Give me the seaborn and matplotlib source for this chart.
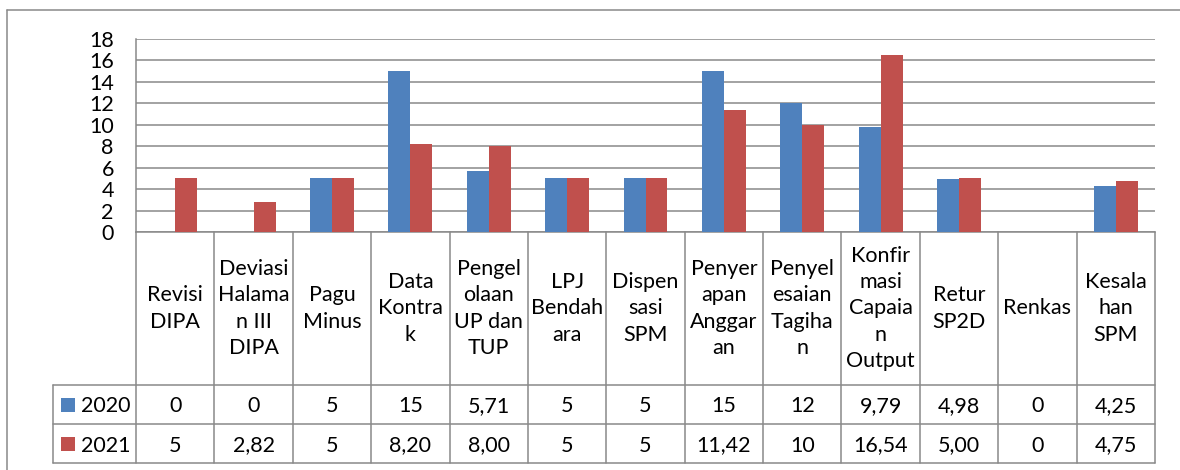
import numpy as np
import pandas as pd
import matplotlib
matplotlib.use("Agg")
import matplotlib.pyplot as plt
from matplotlib.lines import Line2D
from matplotlib.patches import Rectangle
import matplotlib.transforms as mtransforms
import seaborn as sns

categories = ["Revisi\nDIPA", "Deviasi\nHalama\nn III\nDIPA", "Pagu\nMinus", "Data\nKontra\nk",
              "Pengel\nolaan\nUP dan\nTUP", "LPJ\nBendah\nara", "Dispen\nsasi\nSPM",
              "Penyer\napan\nAnggar\nan", "Penyel\nesaian\nTagiha\nn",
              "Konfir\nmasi\nCapaia\nn\nOutput", "Retur\nSP2D", "Renkas", "Kesala\nhan\nSPM"]
series_names = ["2020", "2021"]
values_2020 = [0, 0, 5, 15, 5.71, 5, 5, 15, 12, 9.79, 4.98, 0, 4.25]
values_2021 = [5, 2.82, 5, 8.20, 8.00, 5, 5, 11.42, 10, 16.54, 5.00, 0, 4.75]
labels_2020 = ["0", "0", "5", "15", "5,71", "5", "5", "15", "12", "9,79", "4,98", "0", "4,25"]
labels_2021 = ["5", "2,82", "5", "8,20", "8,00", "5", "5", "11,42", "10", "16,54", "5,00", "0", "4,75"]
y_ticks = [0, 2, 4, 6, 8, 10, 12, 14, 16, 18]

colors = ["#4F81BD", "#C0504D"]
grid_c = "#898989"
FONT = "Lato"
FS = 15.5

sns.set_theme(style="white")
plt.rcParams["font.family"] = [FONT, "DejaVu Sans"]

W, H = 1180, 470
fig = plt.figure(figsize=(W / 100, H / 100), dpi=100)

def fx(px):
    return px / W

def fy(py):
    return 1 - py / H

ax_l, ax_r, ax_t, ax_b = 136, 1155, 39, 232
ax = fig.add_axes([fx(ax_l), fy(ax_b), fx(ax_r - ax_l), (ax_b - ax_t) / H])

n = len(categories)
keys = [f"c{i}" for i in range(n)]
df = pd.DataFrame({
    "cat": keys * 2,
    "value": values_2020 + values_2021,
    "year": [series_names[0]] * n + [series_names[1]] * n,
})
sns.barplot(data=df, x="cat", y="value", hue="year", palette=colors, width=0.56,
            dodge=True, ax=ax, linewidth=0, saturation=1, legend=False, zorder=3)

ax.set_xlim(-0.5, n - 0.5)
ax.set_ylim(0, 18)
ax.set_yticks(y_ticks)
ax.set_yticklabels([str(t) for t in y_ticks], fontsize=FS, color="black")
ax.tick_params(axis="y", length=0, pad=16)
ax.set_xticks([])
ax.set_xlabel("")
ax.set_ylabel("")
ax.yaxis.grid(True, color=grid_c, lw=1.1, zorder=0)
ax.set_axisbelow(True)
for s in ["top", "right"]:
    ax.spines[s].set_visible(False)
for s in ["left", "bottom"]:
    ax.spines[s].set_color(grid_c)
    ax.spines[s].set_linewidth(1.1)

# ---- data table below the axes ----
axh = ax_b - ax_t

def ay(py):
    return (ax_b - py) / axh

trans = mtransforms.blended_transform_factory(ax.transData, ax.transAxes)
row_cat_bottom, row1_bottom, row2_bottom = 385, 424, 463
left_px = 53

lkw = dict(color=grid_c, lw=1.1, clip_on=False, zorder=5)
# vertical lines at category boundaries
for b in np.arange(-0.5, n, 1.0):
    ax.add_line(Line2D([b, b], [0, ay(row2_bottom)], transform=trans, **lkw))
# horizontal lines
ax.add_line(Line2D([fx(left_px), fx(ax_r)], [fy(row_cat_bottom)] * 2, transform=fig.transFigure, **lkw))
ax.add_line(Line2D([fx(left_px), fx(ax_r)], [fy(row1_bottom)] * 2, transform=fig.transFigure, **lkw))
ax.add_line(Line2D([fx(left_px), fx(ax_r)], [fy(row2_bottom)] * 2, transform=fig.transFigure, **lkw))
ax.add_line(Line2D([fx(left_px)] * 2, [fy(row_cat_bottom), fy(row2_bottom)], transform=fig.transFigure, **lkw))

# category labels
yc = ay((ax_b + row_cat_bottom) / 2)
for i, c in enumerate(categories):
    ax.text(i, yc, c, transform=trans, ha="center", va="center", fontsize=FS,
            linespacing=1.38, color="black", clip_on=False)

# series rows
rows = [(labels_2020, (row_cat_bottom + row1_bottom) / 2), (labels_2021, (row1_bottom + row2_bottom) / 2)]
for (labs, ypx), name, col in zip(rows, series_names, colors):
    for i, t in enumerate(labs):
        ax.text(i, ay(ypx), t, transform=trans, ha="center", va="center_baseline",
                fontsize=FS, color="black", clip_on=False)
    fig.patches.append(Rectangle((fx(61), fy(ypx + 7)), fx(14), 14 / H, transform=fig.transFigure,
                                 facecolor=col, edgecolor="none"))
    fig.text(fx(81), fy(ypx), name, ha="left", va="center_baseline", fontsize=FS, color="black")

# outer chart frame
fig.add_artist(Line2D([fx(7), 1], [fy(10), fy(10)], transform=fig.transFigure, color=grid_c, lw=1.1))
fig.add_artist(Line2D([fx(7), fx(7)], [fy(10), 0], transform=fig.transFigure, color=grid_c, lw=1.1))

fig.savefig("out.png", dpi=100, facecolor="white")
